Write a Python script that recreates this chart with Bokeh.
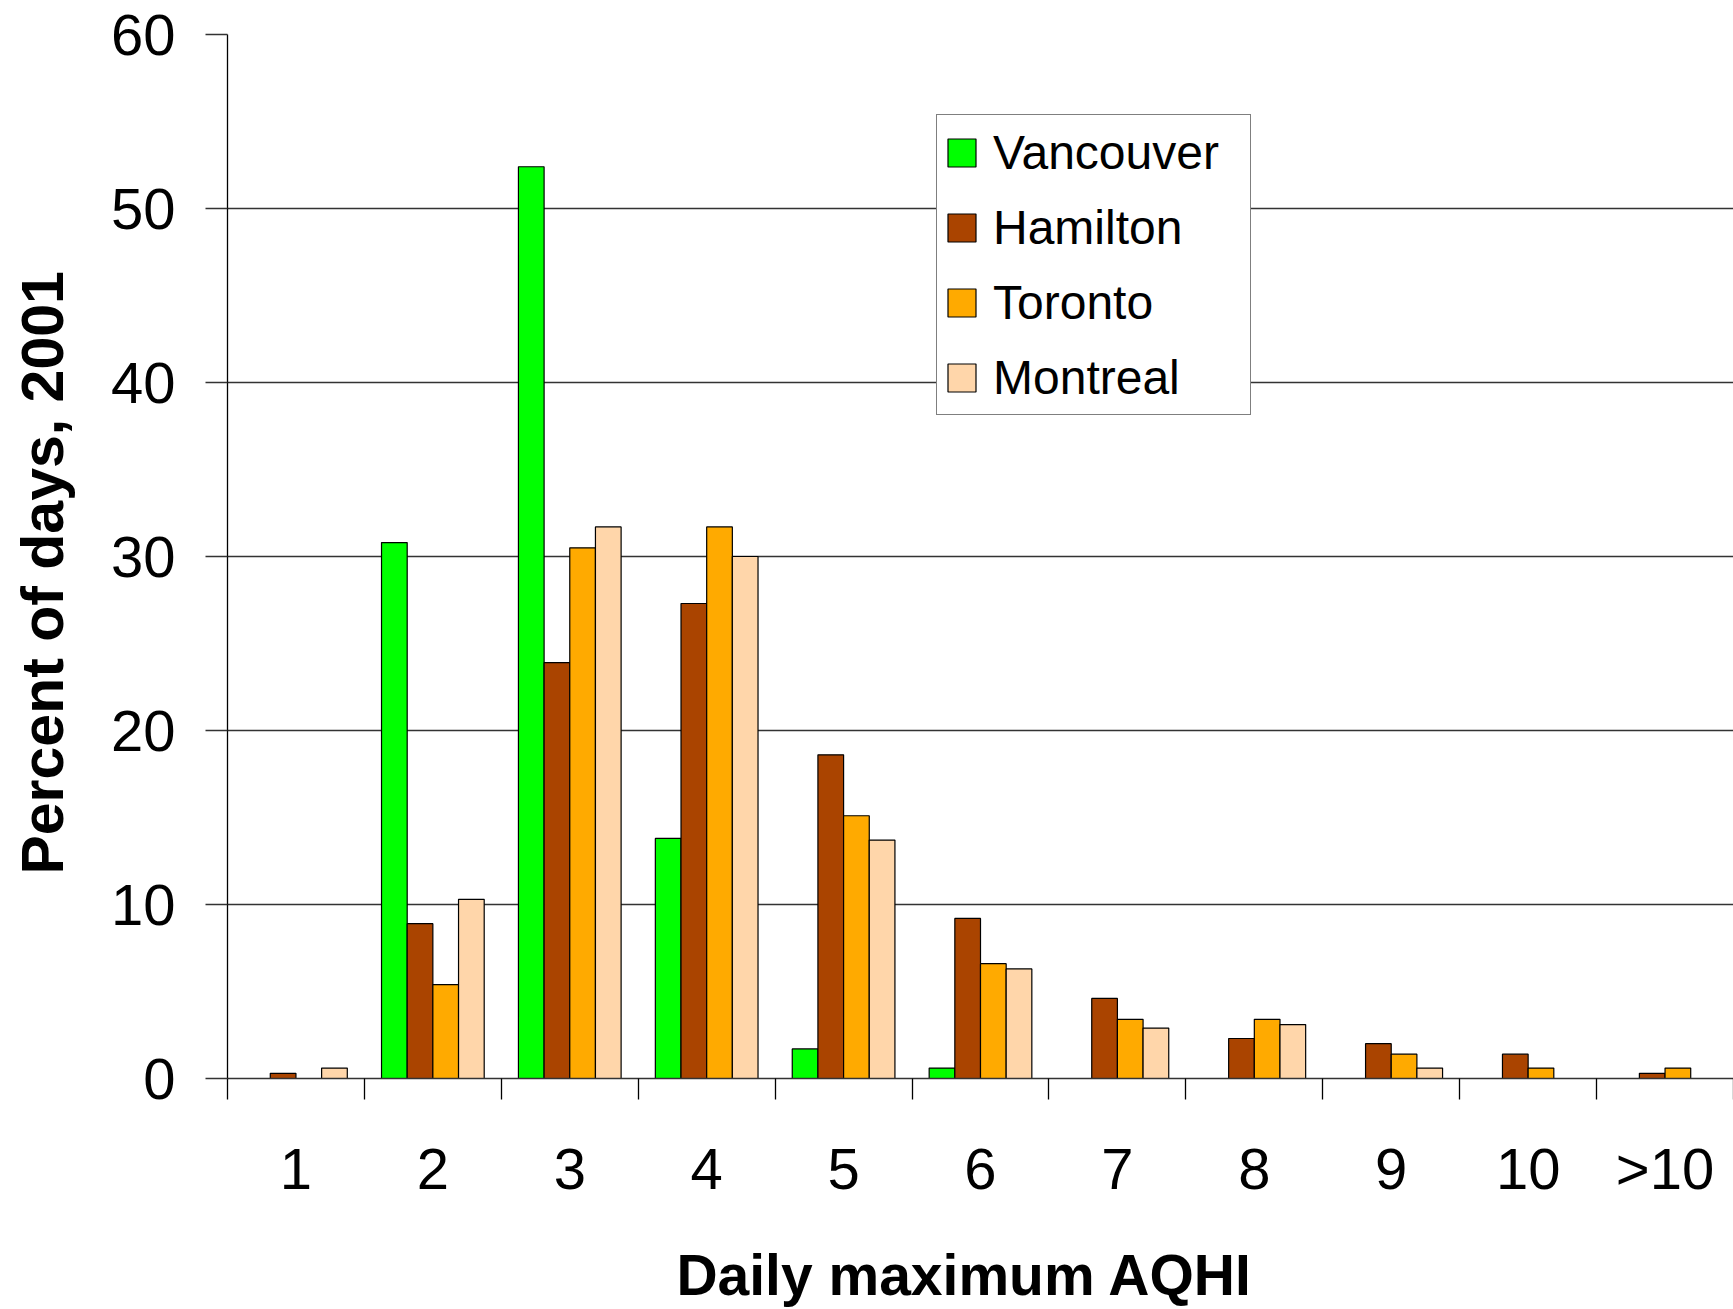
from bokeh.plotting import figure
from bokeh.models import (ColumnDataSource, Range1d, FixedTicker, Legend, LegendItem)
from bokeh.transform import dodge
from bokeh.embed import file_html
from bokeh.resources import INLINE

categories = ["1", "2", "3", "4", "5", "6", "7", "8", "9", "10", ">10"]
vancouver = [0, 30.8, 52.4, 13.8, 1.7, 0.6, 0, 0, 0, 0, 0]
hamilton = [0.3, 8.9, 23.9, 27.3, 18.6, 9.2, 4.6, 2.3, 2.0, 1.4, 0.3]
toronto = [0, 5.4, 30.5, 31.7, 15.1, 6.6, 3.4, 3.4, 1.4, 0.6, 0.6]
montreal = [0.6, 10.3, 31.7, 30.0, 13.7, 6.3, 2.9, 3.1, 0.6, 0, 0]
y_ticks = [0, 10, 20, 30, 40, 50, 60]

series = [
    ("Vancouver", vancouver, "#00FF00"),
    ("Hamilton", hamilton, "#AA4400"),
    ("Toronto", toronto, "#FFAA00"),
    ("Montreal", montreal, "#FFD6AA"),
]

FONT = "Liberation Sans"
NB = "\u00a0"
n = len(categories)
p = figure(width=1733, height=1309, output_backend="svg", toolbar_location=None,
           x_range=Range1d(0.5, n + 0.5), y_range=Range1d(0, 60),
           min_border_left=227, min_border_right=0, min_border_top=34,
           min_border_bottom=229)
p.outline_line_color = None
p.background_fill_color = "white"
p.border_fill_color = "white"

bw = 0.1875
offsets = [-1.5 * bw, -0.5 * bw, 0.5 * bw, 1.5 * bw]
items = []
for (name, vals, col), off in zip(series, offsets):
    xs = [i + 1 for i, v in enumerate(vals) if v > 0]
    ys = [v for v in vals if v > 0]
    src = ColumnDataSource(dict(x=xs, top=ys))
    r = p.vbar(x=dodge("x", off), top="top", bottom=0, width=bw, source=src,
               fill_color=col, line_color="black", line_width=1.2)
    items.append(LegendItem(label=name, renderers=[r]))

# grid
p.xgrid.grid_line_color = None
p.ygrid.grid_line_color = "#333333"
p.ygrid.grid_line_width = 1.5
p.ygrid.ticker = FixedTicker(ticks=y_ticks)

# x axis
xa = p.xaxis[0]
xa.ticker = FixedTicker(ticks=[i + 1 for i in range(n)],
                        minor_ticks=[i + 0.5 for i in range(n + 1)])
xa.major_label_overrides = {i + 1: c for i, c in enumerate(categories)}
xa.major_tick_out = 0
xa.major_tick_in = 0
xa.minor_tick_out = 21
xa.minor_tick_in = 0
xa.minor_tick_line_color = "black"
xa.minor_tick_line_width = 1.3
xa.axis_line_color = "#333333"
xa.axis_line_width = 1.5
xa.major_label_text_font = FONT
xa.major_label_text_font_size = "58px"
xa.major_label_text_color = "black"
xa.major_label_standoff = 36
xa.axis_label = "Daily maximum AQHI" + NB * 2
xa.axis_label_text_font = FONT
xa.axis_label_text_font_style = "bold"
xa.axis_label_text_font_size = "57px"
xa.axis_label_text_color = "black"
xa.axis_label_standoff = 39

# y axis
ya = p.yaxis[0]
ya.ticker = FixedTicker(ticks=y_ticks)
ya.major_tick_out = 22
ya.major_tick_in = 0
ya.minor_tick_out = 0
ya.minor_tick_in = 0
ya.major_tick_line_color = "#333333"
ya.major_tick_line_width = 1.5
ya.axis_line_color = "black"
ya.axis_line_width = 1.3
ya.major_label_text_font = FONT
ya.major_label_text_font_size = "58px"
ya.major_label_text_color = "black"
ya.major_label_standoff = 30
ya.axis_label = "Percent of days, 2001" + NB * 2
ya.axis_label_text_font = FONT
ya.axis_label_text_font_style = "bold"
ya.axis_label_text_font_size = "59px"
ya.axis_label_text_color = "black"
ya.axis_label_standoff = 32

legend = Legend(items=items, location=(709, 663),
                label_text_font=FONT, label_text_font_size="48px",
                label_text_color="black",
                glyph_width=35, glyph_height=35, label_standoff=14,
                label_height=60, label_width=250, spacing=15, padding=7,
                border_line_color="black", border_line_width=1.3,
                background_fill_color="white", background_fill_alpha=1.0)
p.add_layout(legend)

open("out.html", "w").write(file_html(p, INLINE))
